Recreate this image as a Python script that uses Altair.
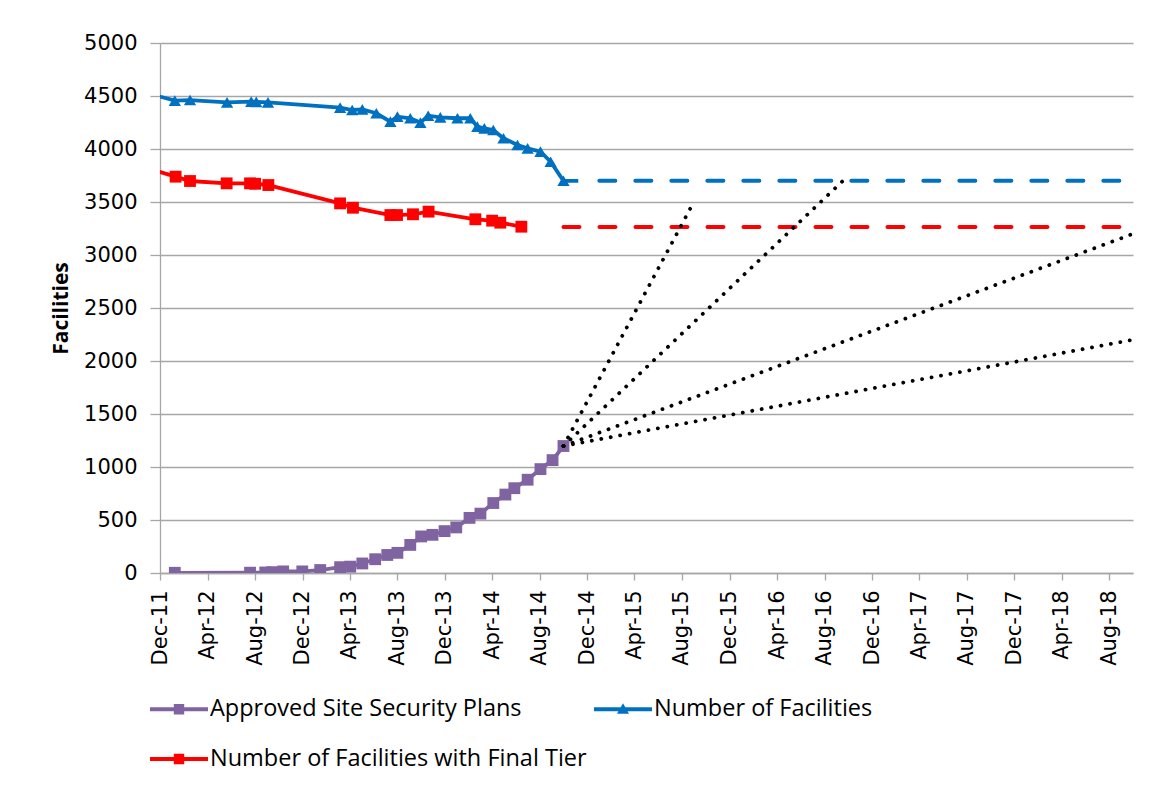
import altair as alt
import pandas as pd

SERIES = ["Approved Site Security Plans", "Number of Facilities",
          "Number of Facilities with Final Tier"]
COLORS = ["#8064A2", "#0070C0", "#FF0000"]

# Approved Site Security Plans
ssp_dates = ["2012-01-08", "2012-07-19", "2012-08-27", "2012-09-14", "2012-10-12",
             "2012-11-30", "2013-01-15", "2013-03-07", "2013-04-02", "2013-05-03",
             "2013-06-05", "2013-07-06", "2013-08-01", "2013-09-03", "2013-10-01",
             "2013-10-30", "2013-11-30", "2013-12-30", "2014-02-02", "2014-03-02",
             "2014-04-04", "2014-05-05", "2014-05-28", "2014-07-01", "2014-08-03",
             "2014-09-03", "2014-10-01"]
ssp_values = [2, 3, 5, 8, 15, 15, 28, 55, 60, 90, 130, 170, 190, 265, 345, 360, 395,
              430, 520, 560, 660, 740, 800, 880, 980, 1065, 1198]

# Number of Facilities
fac_dates = ["2011-11-15", "2012-01-08", "2012-02-16", "2012-05-21", "2012-07-22",
             "2012-08-04", "2012-09-03", "2013-03-07", "2013-04-07", "2013-05-03",
             "2013-06-08", "2013-07-14", "2013-08-01", "2013-09-03", "2013-09-29",
             "2013-10-19", "2013-11-19", "2014-01-02", "2014-02-04", "2014-02-22",
             "2014-03-12", "2014-04-04", "2014-04-30", "2014-06-05", "2014-07-01",
             "2014-08-03", "2014-08-29", "2014-10-01"]
fac_values = [4510, 4456, 4462, 4440, 4447, 4445, 4440, 4390, 4368, 4374, 4337, 4258,
              4305, 4290, 4249, 4314, 4298, 4290, 4290, 4211, 4195, 4179, 4101, 4038,
              4006, 3975, 3880, 3700]
fac_tail_date = "2014-11-08"
fac_tail_value = 3700

# Number of Facilities with Final Tier
tier_dates = ["2011-11-15", "2012-01-10", "2012-02-16", "2012-05-20", "2012-07-19",
              "2012-08-01", "2012-09-04", "2013-03-07", "2013-04-09", "2013-07-14",
              "2013-07-31", "2013-09-10", "2013-10-20", "2014-02-17", "2014-04-01",
              "2014-04-22", "2014-06-15"]
tier_values = [3800, 3739, 3698, 3676, 3676, 3672, 3660, 3487, 3446, 3377, 3377, 3384,
               3409, 3337, 3324, 3305, 3267]

# dashed projections
proj_fac_dates = ["2015-01-01", "2018-09-01"]
proj_fac_values = [3700, 3700]
proj_tier_dates = ["2014-10-01", "2018-09-01"]
proj_tier_values = [3265, 3265]

# dotted trend lines
trend_start_date = "2014-10-01"
trend_start_value = 1198
trend_end_dates = ["2015-08-24", "2016-09-17", "2018-10-01", "2018-10-01"]
trend_end_values = [3450, 3700, 3200, 2200]

# axis ticks
x_tick_months = [(2011, 12), (2012, 4), (2012, 8), (2012, 12), (2013, 4), (2013, 8),
                 (2013, 12), (2014, 4), (2014, 8), (2014, 12), (2015, 4), (2015, 8),
                 (2015, 12), (2016, 4), (2016, 8), (2016, 12), (2017, 4), (2017, 8),
                 (2017, 12), (2018, 4), (2018, 8)]
x_domain = [(2011, 12), (2018, 10)]
y_ticks = [0, 500, 1000, 1500, 2000, 2500, 3000, 3500, 4000, 4500, 5000]

# legend symbols (line with marker); the line overhangs the unit symbol box
LEG_SQ = "M-1.45,-0.1H1.45V0.1H-1.45Z M-0.26,-0.26H0.26V0.26H-0.26Z"
LEG_TRI = "M-1.45,-0.1H1.45V0.1H-1.45Z M0,-0.3L0.3,0.22H-0.3Z"

# ---------- tables ----------
solid = pd.concat([
    pd.DataFrame({"date": ssp_dates, "value": ssp_values, "series": SERIES[0]}),
    pd.DataFrame({"date": fac_dates + [fac_tail_date], "value": fac_values + [fac_tail_value],
                  "series": SERIES[1]}),
    pd.DataFrame({"date": tier_dates, "value": tier_values, "series": SERIES[2]}),
], ignore_index=True)

markers = pd.concat([
    pd.DataFrame({"date": ssp_dates, "value": ssp_values, "series": SERIES[0]}),
    pd.DataFrame({"date": fac_dates, "value": fac_values, "series": SERIES[1]}),
    pd.DataFrame({"date": tier_dates, "value": tier_values, "series": SERIES[2]}),
], ignore_index=True)

proj = pd.concat([
    pd.DataFrame({"date": proj_fac_dates, "value": proj_fac_values, "series": SERIES[1]}),
    pd.DataFrame({"date": proj_tier_dates, "value": proj_tier_values, "series": SERIES[2]}),
], ignore_index=True)

trend_rows = []
for i, (d, v) in enumerate(zip(trend_end_dates, trend_end_values)):
    trend_rows.append({"date": trend_start_date, "value": trend_start_value, "line": i})
    trend_rows.append({"date": d, "value": v, "line": i})
trend = pd.DataFrame(trend_rows)


def dt(y, m):
    return alt.DateTime(year=y, month=m, date=1, utc=True)


X = alt.X("date:T",
          scale=alt.Scale(type="utc", domain=[dt(*x_domain[0]), dt(*x_domain[1])]),
          axis=alt.Axis(values=[dt(y, m) for y, m in x_tick_months],
                        labelExpr="utcFormat(datum.value, '%b-%y')",
                        labelAngle=270, title=None, grid=False,
                        tickSize=7, labelPadding=10, labelFont="DejaVu Sans",
                        labelFontSize=21, labelColor="black"))
Y = alt.Y("value:Q",
          scale=alt.Scale(domain=[0, 5000], nice=False, zero=True),
          axis=alt.Axis(values=y_ticks, format="d", title="Facilities", grid=True,
                        tickSize=10, labelPadding=13, labelFont="DejaVu Sans",
                        labelFontSize=21, labelColor="black", titleFont="Open Sans",
                        titleFontSize=21, titleFontWeight="bold", titleColor="black",
                        titlePadding=12))
C_nolegend = alt.Color("series:N", scale=alt.Scale(domain=SERIES, range=COLORS), legend=None)

lines = alt.Chart(solid).mark_line(strokeWidth=3.8, clip=True).encode(
    x=X, y=Y, color=C_nolegend, detail="series:N")

squares = alt.Chart(markers).transform_filter(
    alt.datum.series != SERIES[1]
).mark_point(shape="square", filled=True, size=140, opacity=1, clip=True).encode(
    x=X, y=Y, color=C_nolegend)

triangles = alt.Chart(markers).transform_filter(
    alt.datum.series == SERIES[1]
).mark_point(shape="triangle-up", filled=True, size=150, opacity=1, clip=True).encode(
    x=X, y=Y, color=C_nolegend)

dashed = alt.Chart(proj).mark_line(strokeWidth=4, strokeDash=[16, 20], strokeCap="round",
                                   clip=True).encode(
    x=X, y=Y, color=C_nolegend, detail="series:N")

dotted = alt.Chart(trend).mark_line(color="black", strokeWidth=3.8, strokeDash=[0.1, 9.5],
                                    strokeCap="round", clip=True).encode(
    x=X, y=Y, detail="line:N")

LEG = dict(title=None, orient="none", legendX=-1, legendY=646, columns=2,
           direction="horizontal", symbolSize=1600, symbolStrokeWidth=0,
           labelFont="Open Sans", labelFontSize=23.5, labelColor="black", labelOffset=11,
           labelLimit=0, rowPadding=18, columnPadding=7, padding=0)

legend_layer = alt.Chart(markers).transform_filter("false").mark_point(
    filled=True, opacity=1).encode(
    x=X, y=Y,
    color=alt.Color("series:N", scale=alt.Scale(domain=SERIES, range=COLORS),
                    legend=alt.Legend(**LEG)),
    shape=alt.Shape("series:N", scale=alt.Scale(domain=SERIES, range=[LEG_SQ, LEG_TRI, LEG_SQ]),
                    legend=alt.Legend(**LEG)))

chart = alt.layer(lines, squares, triangles, dashed, dotted, legend_layer).resolve_legend(
    color="independent", shape="independent"
).properties(
    width=973, height=530,
    autosize=alt.AutoSizeParams(type="none"),
    padding={"left": 152, "top": 35, "right": 10, "bottom": 205},
    background="white",
).configure_view(stroke=None).configure_axis(
    domainColor="#A6A6A6", tickColor="#A6A6A6", gridColor="#A6A6A6",
    domainWidth=1.3, tickWidth=1.3, gridWidth=1.3,
)

chart.save("out.html", embed_options={"renderer": "svg", "actions": False})
